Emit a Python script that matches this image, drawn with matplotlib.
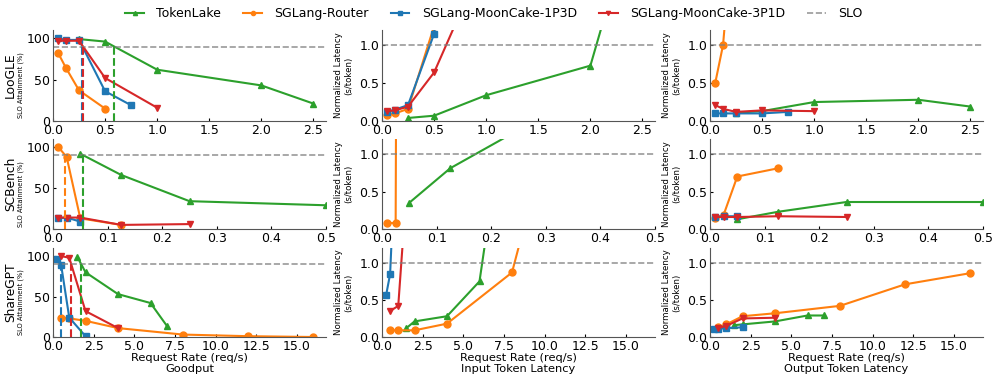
import numpy as np
import matplotlib
matplotlib.use("Agg")
import matplotlib.pyplot as plt

# ── data ──────────────────────────────────────────────────────────────────
systems = ["TokenLake", "SGLang-Router", "SGLang-MoonCake-1P3D", "SGLang-MoonCake-3P1D"]
datasets = ["LooGLE", "SCBench", "ShareGPT"]
metrics = ["Goodput", "Input Token Latency", "Output Token Latency"]

# LooGLE
loogle_rates = {
    "TokenLake": [0.25, 0.5, 1.0, 2.0, 2.5],
    "SGLang-Router": [0.05, 0.125, 0.25, 0.5],
    "SGLang-MoonCake-1P3D": [0.05, 0.125, 0.25, 0.5, 0.75],
    "SGLang-MoonCake-3P1D": [0.05, 0.125, 0.25, 0.5, 1.0],
}
loogle_slo = {
    "TokenLake": [99, 96, 62, 43, 21],
    "SGLang-Router": [82, 64, 37, 15],
    "SGLang-MoonCake-1P3D": [100, 98, 98, 36, 19],
    "SGLang-MoonCake-3P1D": [97, 97, 97, 52, 16],
}
loogle_in = {
    "TokenLake": [0.04, 0.07, 0.34, 0.73, 3.1],
    "SGLang-Router": [0.08, 0.10, 0.16, 1.25],
    "SGLang-MoonCake-1P3D": [0.12, 0.15, 0.21, 1.15, 5.0],
    "SGLang-MoonCake-3P1D": [0.13, 0.14, 0.19, 0.64, 2.2],
}
loogle_out = {
    "TokenLake": [0.11, 0.13, 0.25, 0.28, 0.19],
    "SGLang-Router": [0.50, 1.00, 3.0, 6.0],
    "SGLang-MoonCake-1P3D": [0.10, 0.10, 0.10, 0.10, 0.12],
    "SGLang-MoonCake-3P1D": [0.21, 0.16, 0.12, 0.14, 0.13],
}

# SCBench
scbench_rates = {
    "TokenLake": [0.05, 0.125, 0.25, 0.5],
    "SGLang-Router": [0.01, 0.025, 0.05, 0.125],
    "SGLang-MoonCake-1P3D": [0.01, 0.025, 0.05],
    "SGLang-MoonCake-3P1D": [0.01, 0.025, 0.05, 0.125, 0.25],
}
scbench_slo = {
    "TokenLake": [92, 66, 34, 29],
    "SGLang-Router": [100, 88, 13, 5],
    "SGLang-MoonCake-1P3D": [13, 14, 9],
    "SGLang-MoonCake-3P1D": [14, 14, 14, 5, 6],
}
scbench_in = {
    "TokenLake": [0.35, 0.81, 1.32, 3.0],
    "SGLang-Router": [0.08, 0.08, 50.0, 60.0],
    "SGLang-MoonCake-1P3D": [5.0, 6.0, 7.0],
    "SGLang-MoonCake-3P1D": [5.0, 6.0, 7.0, 8.0, 9.0],
}
scbench_out = {
    "TokenLake": [0.13, 0.23, 0.36, 0.36],
    "SGLang-Router": [0.15, 0.19, 0.70, 0.81],
    "SGLang-MoonCake-1P3D": [0.16, 0.17, 0.17],
    "SGLang-MoonCake-3P1D": [0.16, 0.16, 0.16, 0.17, 0.16],
}

# ShareGPT
sharegpt_rates = {
    "TokenLake": [1.5, 2, 4, 6, 7],
    "SGLang-Router": [0.5, 1, 2, 4, 8, 12, 16],
    "SGLang-MoonCake-1P3D": [0.25, 0.5, 1, 2],
    "SGLang-MoonCake-3P1D": [0.5, 1, 2, 4],
}
sharegpt_slo = {
    "TokenLake": [99, 80, 53, 42, 14],
    "SGLang-Router": [24, 23, 20, 11, 3, 1, 0],
    "SGLang-MoonCake-1P3D": [97, 89, 24, 1],
    "SGLang-MoonCake-3P1D": [100, 98, 32, 11],
}
sharegpt_in = {
    "TokenLake": [0.12, 0.21, 0.28, 0.75, 2.25],
    "SGLang-Router": [0.09, 0.09, 0.09, 0.18, 0.87, 4.2, 8.0],
    "SGLang-MoonCake-1P3D": [0.56, 0.85, 3.35, 8.0],
    "SGLang-MoonCake-3P1D": [0.35, 0.42, 3.5, 8.0],
}
sharegpt_out = {
    "TokenLake": [0.16, 0.17, 0.21, 0.29, 0.29],
    "SGLang-Router": [0.13, 0.17, 0.28, 0.32, 0.42, 0.71, 0.86],
    "SGLang-MoonCake-1P3D": [0.11, 0.11, 0.12, 0.13],
    "SGLang-MoonCake-3P1D": [0.12, 0.15, 0.25, 0.26],
}

rates = [loogle_rates, scbench_rates, sharegpt_rates]
values = [
    [loogle_slo, loogle_in, loogle_out],
    [scbench_slo, scbench_in, scbench_out],
    [sharegpt_slo, sharegpt_in, sharegpt_out],
]
x_max = [2.62, 0.5, 16.8]
x_step = [0.5, 0.1, 2.5]

# ── style ─────────────────────────────────────────────────────────────────
colors = {
    "TokenLake": "#2ca02c",
    "SGLang-Router": "#ff7f0e",
    "SGLang-MoonCake-1P3D": "#1f77b4",
    "SGLang-MoonCake-3P1D": "#d62728",
}
markers = {
    "TokenLake": "^",
    "SGLang-Router": "o",
    "SGLang-MoonCake-1P3D": "s",
    "SGLang-MoonCake-3P1D": "v",
}
plt.rcParams["font.family"] = ["DejaVu Sans"]

W, H = 996, 382
fig = plt.figure(figsize=(W / 100, H / 100), dpi=100)

col_x = [53, 382, 710]
col_w = 273
row_top = [30, 139, 248]
row_h = [91, 90, 89]


def goodput(x, y, slo=90):
    # first crossing of the SLO line from above
    for i in range(len(y) - 1):
        if y[i] >= slo > y[i + 1]:
            return x[i] + (y[i] - slo) / (y[i] - y[i + 1]) * (x[i + 1] - x[i])
    return None


for r in range(3):
    for c in range(3):
        left = col_x[c] / W
        bottom = 1 - (row_top[r] + row_h[r]) / H
        ax = fig.add_axes([left, bottom, col_w / W, row_h[r] / H])
        data = values[r][c]
        for s in systems:
            ax.plot(rates[r][s], data[s], color=colors[s], marker=markers[s],
                    markersize=5, linewidth=1.5, label=s)
        if c == 0:
            ax.axhline(90, color="gray", linestyle="--", linewidth=1.2, alpha=0.8)
            for s in systems:
                g = goodput(rates[r][s], data[s])
                if g is not None:
                    ax.vlines(g, 0, 90, colors=colors[s], linestyles="--", linewidth=1.5)
            ax.set_ylim(0, 110)
            ax.set_yticks([0, 50, 100])
            ax.text(-0.155, 0.5, datasets[r], transform=ax.transAxes, rotation=90,
                    ha="center", va="center", fontsize=8.8)
            ax.text(-0.118, 0.39, "SLO Attainment (%)", transform=ax.transAxes,
                    rotation=90, ha="center", va="center", fontsize=4.8)
        else:
            ax.axhline(1.0, color="gray", linestyle="--", linewidth=1.2, alpha=0.8)
            ax.set_ylim(0, 1.2)
            ax.set_yticks([0.0, 0.5, 1.0])
            ax.set_ylabel("Normalized Latency\n(s/token)", fontsize=6.2, labelpad=4)
        ax.set_xlim(0, x_max[r])
        ax.set_xticks(np.arange(0, x_max[r] + 1e-9, x_step[r]))
        ax.xaxis.set_major_formatter(matplotlib.ticker.FormatStrFormatter("%.1f"))
        ax.spines["top"].set_visible(False)
        ax.spines["right"].set_visible(False)
        for sp in ["left", "bottom"]:
            ax.spines[sp].set_color("#555555")
        ax.tick_params(direction="in", length=2, labelsize=9, pad=2)
        if r == 2:
            ax.set_xlabel("Request Rate (req/s)\n" + metrics[c], fontsize=8.2,
                          labelpad=0, linespacing=1.1)

handles, labels = fig.axes[0].get_legend_handles_labels()
slo_line = plt.Line2D([], [], color="gray", linestyle="--", linewidth=1.2, alpha=0.8)
fig.legend(handles + [slo_line], labels + ["SLO"], loc="upper center",
           bbox_to_anchor=(0.496, 1.01), ncol=5, frameon=False, fontsize=9,
           markerscale=0.6, handlelength=1.5, handletextpad=1.0, columnspacing=1.75)

fig.savefig("out.png", dpi=100)
